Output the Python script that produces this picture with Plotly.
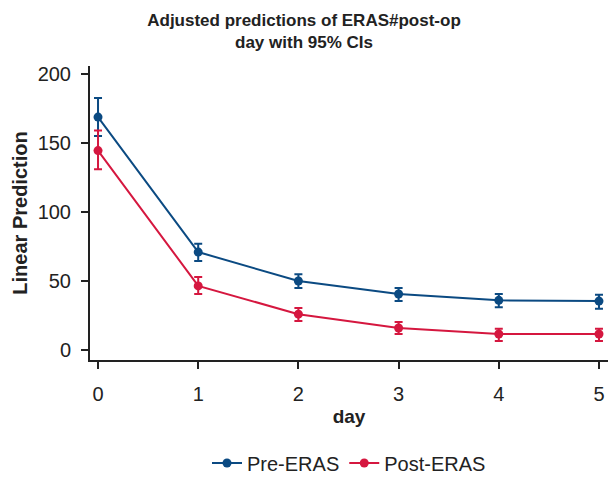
import plotly.graph_objects as go

days = [0, 1, 2, 3, 4, 5]
pre_eras = [168.8, 71.0, 50.0, 40.6, 36.0, 35.5]
pre_lo = [155.0, 64.5, 45.0, 35.5, 31.0, 30.0]
pre_hi = [182.6, 77.0, 55.0, 45.0, 40.6, 40.0]
post_eras = [144.5, 46.5, 26.0, 16.0, 11.6, 11.6]
post_lo = [131.0, 40.6, 21.0, 11.6, 6.5, 6.5]
post_hi = [159.0, 53.0, 30.4, 20.3, 15.5, 15.5]

BLUE = "#0b4a82"
RED = "#d5173f"
DARK = "#222222"

def trace(name, y, lo, hi, color):
    return go.Scatter(
        x=days, y=y, name=name, mode="lines+markers",
        line=dict(color=color, width=2),
        marker=dict(color=color, size=9),
        error_y=dict(type="data", symmetric=False,
                     array=[h - v for h, v in zip(hi, y)],
                     arrayminus=[v - l for v, l in zip(y, lo)],
                     color=color, thickness=2, width=4),
    )

fig = go.Figure([trace("Pre-ERAS", pre_eras, pre_lo, pre_hi, BLUE),
                 trace("Post-ERAS", post_eras, post_lo, post_hi, RED)])

fig.update_layout(
    width=608, height=480,
    margin=dict(l=90, r=0, t=66, b=120, autoexpand=False),
    paper_bgcolor="white", plot_bgcolor="white",
    font=dict(family="Liberation Sans, Arial, sans-serif", size=20, color=DARK),
    title=dict(text="<b>Adjusted predictions of ERAS#post-op<br>day with 95% CIs</b>",
               x=0.5, xanchor="center", y=0.946, yanchor="top",
               font=dict(size=17, color=DARK)),
    xaxis=dict(range=[-0.08, 5.09], tickvals=days, showline=True, linewidth=2,
               linecolor=DARK, ticks="outside", ticklen=7, tickwidth=2,
               tickcolor=DARK, showgrid=False, zeroline=False,
               ticklabelstandoff=8,
               title=dict(text="<b>day</b>", font=dict(size=19, color=DARK), standoff=6)),
    yaxis=dict(range=[-7.2, 205.8], tickvals=[0, 50, 100, 150, 200], showline=True,
               linewidth=2, linecolor=DARK, ticks="outside", ticklen=7, tickwidth=2,
               tickcolor=DARK, showgrid=False, zeroline=False,
               ticklabelstandoff=6,
               title=dict(text="<b>Linear Prediction</b>", font=dict(size=20, color=DARK), standoff=5)),
    legend=dict(orientation="h", x=0.5, xanchor="center", xref="paper",
                y=(480 - 463) / 480, yanchor="middle", yref="container",
                font=dict(size=20, color=DARK)),
    showlegend=True,
)

fig.write_html("out.html", config={"displayModeBar": False},
               post_script="document.body.style.margin='0px';document.body.style.overflow='hidden';")
